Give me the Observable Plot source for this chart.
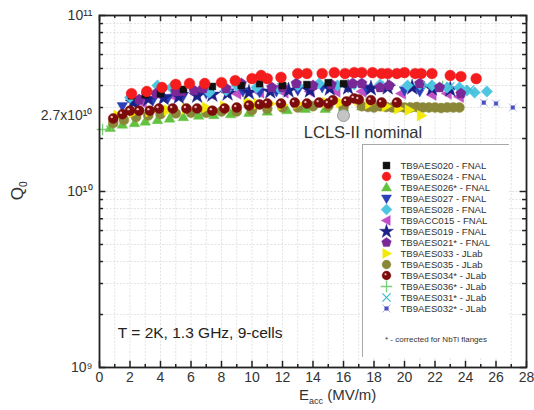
<!DOCTYPE html>
<html><head><meta charset="utf-8">
<script src="https://cdn.jsdelivr.net/npm/d3@7"></script>
<script src="https://cdn.jsdelivr.net/npm/@observablehq/plot@0.6"></script>
<style>
body{margin:0;background:#fff;font-family:"Liberation Sans",Arial,sans-serif;}
#wrap{position:relative;width:534px;height:410px;overflow:hidden;}
#legend{position:absolute;left:362px;top:144px;}
.lbl{position:absolute;color:#333;font-family:"Liberation Sans",Arial,sans-serif;white-space:nowrap;}
.lbl sub{font-size:60%;}
</style></head><body>
<div id="wrap">
  <div id="main"></div>
  <div id="legend"></div>
  <div class="lbl" id="ylab" style="left:9px;top:180px;font-size:17px;transform:rotate(-90deg);transform-origin:center;">Q<sub>0</sub></div>
  <div class="lbl" id="xlab" style="left:299px;top:386px;font-size:15px;">E<sub>acc</sub> (MV/m)</div>
</div>
<script>
const UNIT = 1e10;
// Series (E in MV/m, Q0 in units of 1e10)
const E020 = [2.1,3.0,4.0,5.5,7.4,9.3,10.5,12.0,13.6,15.0,16.0];
const Q020 = [3.50,3.55,3.60,3.80,3.95,4.00,4.10,4.00,4.05,4.15,4.10];
const E024 = [2.1,3.1,4.1,5.0,5.9,6.9,8.0,8.9,10.0,10.6,11.0,11.9,13.0,13.6,14.6,15.4,16.1,16.7,17.2,17.9,18.5,18.9,19.5,20.0,20.7,21.1,21.8,23.0,23.7,24.7];
const Q024 = [3.60,3.70,3.90,4.06,4.11,4.11,4.16,4.27,4.38,4.56,4.38,4.45,4.68,4.68,4.68,4.74,4.68,4.74,4.74,4.74,4.68,4.68,4.68,4.74,4.68,4.68,4.68,4.56,4.50,4.38];
const E026 = [0.7,1.5,2.3,3.0,3.8,4.6,5.5,6.5,7.5,8.6,9.8,11.0,12.3,13.5,14.8,16.0,17.2,18.0,18.7,19.5,20.3];
const Q026 = [2.30,2.40,2.45,2.50,2.55,2.60,2.65,2.70,2.72,2.75,2.80,2.85,2.90,2.95,2.95,3.00,3.05,3.05,3.05,3.00,3.00];
const E027 = [1.5,2.5,3.5,4.5,5.5,6.5,7.0,8.5,9.4,10.5,11.6,13.0,14.6,16.3,17.5,18.7,20.0,21.0];
const Q027 = [3.05,3.20,3.30,3.40,3.50,3.55,3.60,3.65,3.70,3.65,3.70,3.75,3.90,3.90,3.85,3.90,3.75,3.70];
const E028 = [2.0,3.8,4.7,7.2,8.3,9.0,10.3,11.8,13.0,14.4,15.6,16.7,18.4,20.2,21.0,21.8,22.8,23.6,24.1,24.6,25.4];
const Q028 = [3.42,4.00,3.90,3.65,3.75,4.00,3.90,3.85,4.00,4.11,4.00,4.06,4.06,4.00,4.06,4.00,3.90,3.90,3.75,3.65,3.70];
const E015 = [2.8,4.8,7.2,9.0,10.5,12.1,13.8,15.5,17.2,19.8,21.8,22.8,23.6];
const Q015 = [3.20,3.50,3.60,3.60,3.65,3.65,3.70,3.70,3.70,3.60,3.55,3.60,3.45];
const E019 = [2.2,3.2,4.2,5.2,6.4,7.4,8.4,9.8,11.2,12.4,13.8,15.1,16.3,17.8,18.9,20.5,21.8,23.0];
const Q019 = [3.20,3.35,3.40,3.45,3.50,3.55,3.60,3.65,3.70,3.75,3.75,3.85,3.90,3.85,3.90,3.90,3.85,3.80];
const E021 = [2.6,3.7,5.0,5.4,6.2,6.8,8.3,9.3,11.3,12.0,12.9,14.0,15.2,16.6,17.2,18.4,19.0,21.0,22.3,23.7];
const Q021 = [3.33,3.60,3.70,3.70,3.75,3.85,3.85,4.11,3.90,3.90,4.11,4.00,4.06,4.11,4.11,3.90,4.00,4.11,3.90,3.60];
const E033 = [1.2,2.2,3.3,4.5,5.7,7.0,8.2,9.7,10.4,11.2,12.0,13.0,14.9,15.8,17.0,17.7,18.8,19.6,20.3,21.1];
const Q033 = [2.70,2.80,2.85,2.90,2.95,3.00,3.05,3.25,3.15,3.15,3.10,3.15,3.20,3.20,3.30,3.15,3.05,2.95,2.90,2.70];
const E035 = [0.9,1.6,2.4,3.2,4.0,5.0,6.0,7.0,8.0,9.0,10.0,11.0,12.0,13.0,14.0,15.0,16.0,17.2,17.6,18.0,18.4,18.8,19.2,19.6,20.0,20.4,20.8,21.2,21.6,22.0,22.4,22.8,23.2,23.6];
const Q035 = [2.45,2.55,2.65,2.70,2.75,2.78,2.80,2.80,2.85,2.85,2.90,2.95,3.00,3.00,3.05,3.05,3.00,3.05,3.02,3.00,3.05,3.02,3.00,3.02,3.00,3.00,3.02,3.00,3.00,3.00,2.98,3.00,3.00,3.00];
const E034 = [0.9,1.5,2.0,2.6,3.3,3.9,4.8,5.7,6.4,7.4,8.2,9.0,9.8,10.5,11.0,11.9,12.8,13.6,14.4,15.0,15.3,16.2,16.7,17.0,17.8,18.5,19.5];
const Q034 = [2.60,2.75,2.88,2.88,2.88,2.96,2.96,2.96,2.96,2.88,2.96,3.00,3.08,3.12,3.16,3.16,3.20,3.16,3.20,3.16,3.30,3.25,3.38,3.33,3.30,3.20,3.20];
const E036 = [0.2,0.8,12.0,18.6,22.5];
const Q036 = [2.25,2.35,4.10,3.95,3.95];
const E031 = [21.5,23.0,24.3];
const Q031 = [4.00,3.95,3.80];
const E032 = [25.2,26.0,27.1];
const Q032 = [3.20,3.16,3.00];

const legendNames = ["TB9AES020 - FNAL","TB9AES024 - FNAL","TB9AES026* - FNAL","TB9AES027 - FNAL","TB9AES028 - FNAL","TB9ACC015 - FNAL","TB9AES019 - FNAL","TB9AES021* - FNAL","TB9AES033 - JLab","TB9AES035 - JLab","TB9AES034* - JLab","TB9AES036* - JLab","TB9AES031* - JLab","TB9AES032* - JLab"];
const footnote = "* - corrected for NbTi flanges";
const lclsE = [16], lclsQ = [2.7];
const lclsLabel = "LCLS-II nominal";
const condLabel = "T = 2K, 1.3 GHz, 9-cells";
const xTickLabels = [0,2,4,6,8,10,12,14,16,18,20,22,24,26,28];
const xMinorTicks = [1,3,5,7,9,11,13,15,17,19,21,23,25,27];
const yTickValues = [1e9,1e10,2.7e10,1e11];
const yTickLabels = ["10\u2079","10\u00b9\u2070","2.7x10\u00b9\u2070","10\u00b9\u00b9"];
const yMinorTicks = [2e9,3e9,4e9,5e9,6e9,7e9,8e9,9e9,2e10,3e10,4e10,5e10,6e10,7e10,8e10,9e10];

// custom symbols
function poly(pts){return {draw(ctx,size){const r=Math.sqrt(size/Math.PI);pts.forEach(([a,b],i)=>i?ctx.lineTo(a*r,b*r):ctx.moveTo(a*r,b*r));ctx.closePath();}};}
const symUp = poly([[-1.15,0.8],[1.15,0.8],[0,-1.2]]);
const symDown = poly([[-1.15,-0.8],[1.15,-0.8],[0,1.2]]);
const symLeft = poly([[0.85,-1.15],[0.85,1.15],[-1.2,0]]);
const symRight = poly([[-0.85,-1.15],[-0.85,1.15],[1.2,0]]);
const symDiamond = poly([[0,-1.25],[1.25,0],[0,1.25],[-1.25,0]]);
const symPent = poly(d3.range(5).map(i=>{const a=-Math.PI/2+i*2*Math.PI/5;return [Math.cos(a)*1.15,Math.sin(a)*1.15];}));
const symBoxX = {draw(ctx,size){const r=Math.sqrt(size/Math.PI);const s=r*0.45;
  ctx.moveTo(-s,-s);ctx.lineTo(s,-s);ctx.lineTo(s,s);ctx.lineTo(-s,s);ctx.closePath();
  ctx.moveTo(-r,-r);ctx.lineTo(r,r);ctx.moveTo(r,-r);ctx.lineTo(-r,r);}};

const S = {
 "TB9AES020 - FNAL": {E:E020,Q:Q020,symbol:"square",color:"#111",fill:true,r:3.9},
 "TB9AES024 - FNAL": {E:E024,Q:Q024,symbol:"circle",color:"#f41c1c",fill:true,r:5.4},
 "TB9AES026* - FNAL": {E:E026,Q:Q026,symbol:symUp,color:"#62c23e",fill:true,r:4.6},
 "TB9AES027 - FNAL": {E:E027,Q:Q027,symbol:symDown,color:"#2b3fb8",fill:true,r:4.6},
 "TB9AES028 - FNAL": {E:E028,Q:Q028,symbol:symDiamond,color:"#4ec6e2",fill:true,r:4.6},
 "TB9ACC015 - FNAL": {E:E015,Q:Q015,symbol:symLeft,color:"#c24fc6",fill:true,r:5},
 "TB9AES019 - FNAL": {E:E019,Q:Q019,symbol:d3.symbolStar,color:"#1c1f86",fill:true,r:5},
 "TB9AES021* - FNAL": {E:E021,Q:Q021,symbol:symPent,color:"#7a2898",fill:true,r:4.8},
 "TB9AES033 - JLab": {E:E033,Q:Q033,symbol:symRight,color:"#f2ea06",fill:true,r:4.8},
 "TB9AES035 - JLab": {E:E035,Q:Q035,symbol:"circle",color:"#8a8838",fill:true,r:5},
 "TB9AES034* - JLab": {E:E034,Q:Q034,symbol:"circle",color:"#7c0c0c",fill:true,r:5},
 "TB9AES036* - JLab": {E:E036,Q:Q036,symbol:"plus",color:"#79cf79",fill:false,r:3.8},
 "TB9AES031* - JLab": {E:E031,Q:Q031,symbol:"times",color:"#3fbfd0",fill:false,r:3.8},
 "TB9AES032* - JLab": {E:E032,Q:Q032,symbol:symBoxX,color:"#4a4fc0",fill:true,r:4}
};
const drawOrder = ["TB9AES026* - FNAL","TB9AES036* - JLab","TB9AES035 - JLab","TB9AES033 - JLab","TB9ACC015 - FNAL","TB9AES027 - FNAL","TB9AES019 - FNAL","TB9AES028 - FNAL","TB9AES021* - FNAL","TB9AES020 - FNAL","TB9AES034* - JLab","TB9AES024 - FNAL","TB9AES031* - JLab","TB9AES032* - JLab"];

function dotOpts(s){
  return {symbol:s.symbol,r:s.r,fill:s.fill?s.color:"none",stroke:s.color,
    strokeWidth:s.fill?0.6:1.3,strokeOpacity:s.fill?0.7:1};
}

const marks = [
  Plot.gridX(d3.range(1,28), {stroke:"#dcdcdc",strokeOpacity:1,strokeWidth:0.8,strokeDasharray:"2,1.5"}),
  Plot.gridY(yMinorTicks.concat([1e10]), {stroke:"#dcdcdc",strokeOpacity:1,strokeWidth:0.8,strokeDasharray:"2,1.5"}),
];
for (const n of drawOrder){
  const s = S[n];
  const data = s.E.map((e,i)=>({E:e,Q:s.Q[i]*UNIT}));
  marks.push(Plot.dot(data,{x:"E",y:"Q",...dotOpts(s)}));
  if (n === "TB9AES034* - JLab") {
    marks.push(Plot.dot(data,{x:"E",y:"Q",r:1.2,dx:-1.5,dy:-1.5,fill:"#e9b5b5"}));
  }
}
marks.push(
  Plot.dot(lclsE.map((e,i)=>({E:e,Q:lclsQ[i]*UNIT})),{x:"E",y:"Q",r:6,fill:"#c4c4c4",stroke:"#9a9a9a",strokeWidth:1}),
  Plot.text([lclsLabel],{x:13.4,y:2.16e10,text:d=>d,textAnchor:"start",fontSize:16.5,fill:"#333"}),
  Plot.text([condLabel],{x:1.2,y:1.56e9,text:d=>d,textAnchor:"start",fontSize:15.5,fill:"#222"}),
  // inward ticks
  Plot.ruleX(xTickLabels,{x:d=>d,y1:1e9,y2:1e9*1.085,stroke:"#222",strokeWidth:1.5}),
  Plot.ruleX(xMinorTicks,{x:d=>d,y1:1e9,y2:1e9*1.04,stroke:"#222",strokeWidth:1.5}),
  Plot.ruleX(xTickLabels,{x:d=>d,y1:1e11,y2:1e11/1.085,stroke:"#222",strokeWidth:1.5}),
  Plot.ruleX(xMinorTicks,{x:d=>d,y1:1e11,y2:1e11/1.04,stroke:"#222",strokeWidth:1.5}),
  Plot.ruleY([1e9,1e10,1e11],{y:d=>d,x1:0,x2:0.42,stroke:"#222",strokeWidth:1.5}),
  Plot.ruleY(yMinorTicks,{y:d=>d,x1:0,x2:0.26,stroke:"#222",strokeWidth:1.5}),
  Plot.ruleY([1e9,1e10,1e11],{y:d=>d,x1:28,x2:27.58,stroke:"#222",strokeWidth:1.5}),
  Plot.ruleY(yMinorTicks,{y:d=>d,x1:28,x2:27.74,stroke:"#222",strokeWidth:1.5}),
  Plot.frame({stroke:"#222",strokeWidth:1.8}),
  Plot.axisX(xTickLabels,{tickSize:0,tickPadding:5,fontSize:14,fill:"#333",label:null}),
  Plot.axisY(yTickValues,{tickSize:0,tickPadding:7,fontSize:14,fill:"#333",label:null,
    tickFormat:d=>yTickLabels[yTickValues.indexOf(d)]})
);

const chart = Plot.plot({
  width:534, height:410,
  marginLeft:99, marginRight:8, marginTop:15, marginBottom:43,
  style:{fontFamily:"'Liberation Sans', Arial, sans-serif",background:"#fff",overflow:"visible"},
  x:{domain:[0,28]},
  y:{type:"log",domain:[1e9,1e11]},
  marks
});
document.getElementById("main").appendChild(chart);

// legend
const legMarks = [Plot.frame({stroke:"#a8a8a8",strokeWidth:1})];
for (const n of legendNames){
  const s = S[n];
  legMarks.push(Plot.dot([n],{y:d=>d,frameAnchor:"left",dx:24,...dotOpts(s),r:Math.min(s.r,4.4)}));
  if (n === "TB9AES034* - JLab") legMarks.push(Plot.dot([n],{y:d=>d,frameAnchor:"left",dx:23,dy:-1.2,r:1.1,fill:"#e9b5b5"}));
}
legMarks.push(
  Plot.text(legendNames,{y:d=>d,text:d=>d,frameAnchor:"left",dx:38,textAnchor:"start",fontSize:9.6,fill:"#333"}),
  Plot.text([footnote],{frameAnchor:"top",dy:195,text:d=>d,fontSize:8,fill:"#333",lineAnchor:"middle"})
);
const legend = Plot.plot({
  width:147,height:213,margin:0,
  style:{fontFamily:"'Liberation Sans', Arial, sans-serif",background:"#fff"},
  x:{axis:null,domain:[0,1]},
  y:{type:"point",domain:legendNames,range:[15,170],axis:null},
  marks:legMarks
});
document.getElementById("legend").appendChild(legend);
</script>
</body></html>
